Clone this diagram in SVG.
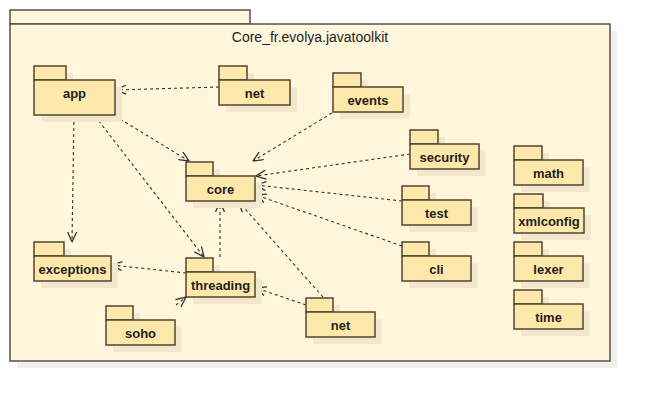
<svg xmlns="http://www.w3.org/2000/svg" width="650" height="402" viewBox="0 0 650 402">
<defs>
<style>
.sh{fill:#f2e8cb;stroke:none}
.osh{fill:#f0f0f0;stroke:none}
.pk{fill:#fee8aa;stroke:#4f4633;stroke-width:1.5}
.out{fill:#fff6dc;stroke:#555049;stroke-width:1.5}
.lb{font-family:"Liberation Sans",Arial,sans-serif;font-size:13px;font-weight:bold;fill:#1e1e1e;text-anchor:middle}
.tt{font-family:"Liberation Sans",Arial,sans-serif;font-size:14px;fill:#1e1e1e;text-anchor:middle}
.e{fill:none;stroke:#333333;stroke-width:1.1;stroke-dasharray:3,3;marker-end:url(#arr)}
.ah{fill:none;stroke:#333333;stroke-width:1.3;stroke-dasharray:none}
</style>
<marker id="arr" viewBox="0 0 11 10" refX="10.5" refY="5" markerWidth="11" markerHeight="10" markerUnits="userSpaceOnUse" orient="auto">
<path class="ah" d="M0.5,0.5 L10.5,5 L0.5,9.5"/>
</marker>
</defs>
<rect width="650" height="402" fill="#ffffff"/>
<g id="outer">
<rect class="osh" x="17" y="31" width="600" height="337"/>
<rect class="out" x="10" y="10" width="240" height="14"/>
<rect class="out" x="10" y="24" width="600" height="337"/>
<text class="tt" x="310" y="42">Core_fr.evolya.javatoolkit</text>
</g>
<g id="connectors">
<path class="e" d="M219,87 L116,90"/>
<path class="e" d="M115,116 L189,161"/>
<path class="e" d="M74,116 L72,242"/>
<path class="e" d="M95,116 L204,257"/>
<path class="e" d="M332,113 L253,161"/>
<path class="e" d="M410,154 L256,176"/>
<path class="e" d="M402,201 L256,185"/>
<path class="e" d="M402,246 L256,195"/>
<path class="e" d="M220,257 L220,202"/>
<path class="e" d="M323,297 L239,202"/>
<path class="e" d="M306,305 L256,288"/>
<path class="e" d="M186,273 L112,265"/>
<path class="e" d="M176,305 L186,297"/>
</g>
<g id="app">
<rect class="sh" x="41" y="73" width="32" height="14"/><rect class="sh" x="41" y="87" width="81" height="35"/>
<rect class="pk" x="34" y="66" width="32" height="14"/><rect class="pk" x="34" y="80" width="81" height="35"/>
<text class="lb" x="74.5" y="98">app</text>
</g>
<g id="net_top">
<rect class="sh" x="226" y="73" width="28" height="14"/><rect class="sh" x="226" y="87" width="71" height="25"/>
<rect class="pk" x="219" y="66" width="28" height="14"/><rect class="pk" x="219" y="80" width="71" height="25"/>
<text class="lb" x="254.5" y="98">net</text>
</g>
<g id="events">
<rect class="sh" x="340" y="80" width="28" height="14"/><rect class="sh" x="340" y="94" width="70" height="25"/>
<rect class="pk" x="333" y="73" width="28" height="14"/><rect class="pk" x="333" y="87" width="70" height="25"/>
<text class="lb" x="368" y="105">events</text>
</g>
<g id="core">
<rect class="sh" x="193" y="169" width="27" height="14"/><rect class="sh" x="193" y="183" width="69" height="25"/>
<rect class="pk" x="186" y="162" width="27" height="14"/><rect class="pk" x="186" y="176" width="69" height="25"/>
<text class="lb" x="220.5" y="194">core</text>
</g>
<g id="security">
<rect class="sh" x="417" y="137" width="28" height="14"/><rect class="sh" x="417" y="151" width="69" height="25"/>
<rect class="pk" x="410" y="130" width="28" height="14"/><rect class="pk" x="410" y="144" width="69" height="25"/>
<text class="lb" x="444.5" y="162">security</text>
</g>
<g id="test">
<rect class="sh" x="409" y="193" width="27" height="14"/><rect class="sh" x="409" y="207" width="69" height="25"/>
<rect class="pk" x="402" y="186" width="27" height="14"/><rect class="pk" x="402" y="200" width="69" height="25"/>
<text class="lb" x="436.5" y="218">test</text>
</g>
<g id="cli">
<rect class="sh" x="409" y="249" width="27" height="14"/><rect class="sh" x="409" y="263" width="69" height="25"/>
<rect class="pk" x="402" y="242" width="27" height="14"/><rect class="pk" x="402" y="256" width="69" height="25"/>
<text class="lb" x="436.5" y="274">cli</text>
</g>
<g id="math">
<rect class="sh" x="521" y="153" width="28" height="14"/><rect class="sh" x="521" y="167" width="69" height="25"/>
<rect class="pk" x="514" y="146" width="28" height="14"/><rect class="pk" x="514" y="160" width="69" height="25"/>
<text class="lb" x="548.5" y="178">math</text>
</g>
<g id="xmlconfig">
<rect class="sh" x="521" y="201" width="29" height="14"/><rect class="sh" x="521" y="215" width="70" height="25"/>
<rect class="pk" x="514" y="194" width="29" height="14"/><rect class="pk" x="514" y="208" width="70" height="25"/>
<text class="lb" x="549" y="226">xmlconfig</text>
</g>
<g id="lexer">
<rect class="sh" x="521" y="249" width="28" height="14"/><rect class="sh" x="521" y="263" width="69" height="25"/>
<rect class="pk" x="514" y="242" width="28" height="14"/><rect class="pk" x="514" y="256" width="69" height="25"/>
<text class="lb" x="548.5" y="274">lexer</text>
</g>
<g id="time">
<rect class="sh" x="521" y="297" width="28" height="14"/><rect class="sh" x="521" y="311" width="69" height="25"/>
<rect class="pk" x="514" y="290" width="28" height="14"/><rect class="pk" x="514" y="304" width="69" height="25"/>
<text class="lb" x="548.5" y="322">time</text>
</g>
<g id="exceptions">
<rect class="sh" x="41" y="249" width="30" height="14"/><rect class="sh" x="41" y="263" width="77" height="25"/>
<rect class="pk" x="34" y="242" width="30" height="14"/><rect class="pk" x="34" y="256" width="77" height="25"/>
<text class="lb" x="72.5" y="274">exceptions</text>
</g>
<g id="threading">
<rect class="sh" x="193" y="265" width="27" height="14"/><rect class="sh" x="193" y="279" width="69" height="25"/>
<rect class="pk" x="186" y="258" width="27" height="14"/><rect class="pk" x="186" y="272" width="69" height="25"/>
<text class="lb" x="220.5" y="290">threading</text>
</g>
<g id="soho">
<rect class="sh" x="113" y="313" width="27" height="14"/><rect class="sh" x="113" y="327" width="69" height="25"/>
<rect class="pk" x="106" y="306" width="27" height="14"/><rect class="pk" x="106" y="320" width="69" height="25"/>
<text class="lb" x="140.5" y="338">soho</text>
</g>
<g id="net_bottom">
<rect class="sh" x="313" y="305" width="27" height="14"/><rect class="sh" x="313" y="319" width="69" height="25"/>
<rect class="pk" x="306" y="298" width="27" height="14"/><rect class="pk" x="306" y="312" width="69" height="25"/>
<text class="lb" x="340.5" y="330">net</text>
</g>
</svg>
